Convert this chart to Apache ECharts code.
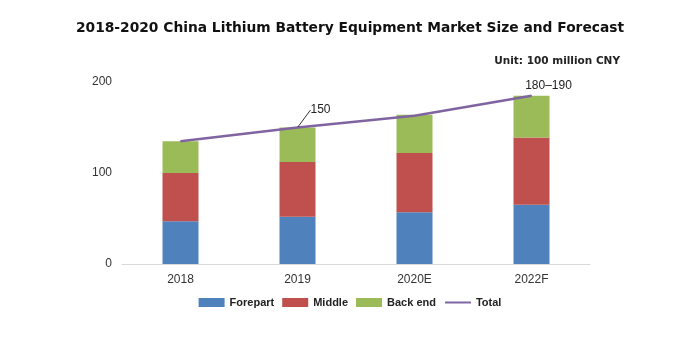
<!DOCTYPE html>
<html><head><meta charset="utf-8">
<script src="https://cdn.jsdelivr.net/npm/echarts@6/dist/echarts.min.js"></script>
<style>html,body{margin:0;padding:0;background:#fff}#c{width:700px;height:345px}</style>
</head><body><div id="c"></div>
<script>
const categories = ['2018', '2019', '2020E', '2022F'];
const forepart = [47, 52, 57, 65];
const middle = [53, 60, 65, 74];
const backEnd = [35, 38, 42, 46];
const total = [135, 150, 163, 185];
const totalLabels = ['', '150', '', '180\u2013190'];
const yTicks = [0, 100, 200];

const FONT = '"Liberation Sans", Arial, sans-serif';
const WIDE = '"DejaVu Sans", sans-serif';
const chart = echarts.init(document.getElementById('c'));
const labelOffsets = [null, [23, -7], null, [17, 1]];
chart.setOption({
  animation: false,
  textStyle: { fontFamily: FONT },
  title: [{
    text: '2018-2020 China Lithium Battery Equipment Market Size and Forecast',
    left: 'center', top: 16,
    textStyle: { fontSize: 13.8, fontWeight: 'bold', color: '#111', fontFamily: WIDE }
  }, {
    text: 'Unit: 100 million CNY',
    right: 75, top: 51,
    textStyle: { fontSize: 10.5, fontWeight: 'bold', color: '#222', fontFamily: WIDE }
  }],
  legend: {
    bottom: 32, left: 'center',
    itemWidth: 26, itemHeight: 9, itemGap: 8,
    textStyle: { fontSize: 11, fontWeight: 'bold', color: '#222', fontFamily: FONT },
    data: [
      { name: 'Forepart', icon: 'rect' },
      { name: 'Middle', icon: 'rect' },
      { name: 'Back end', icon: 'rect' },
      { name: 'Total', itemStyle: { opacity: 0 } }
    ]
  },
  grid: { left: 122, right: 110, top: 82, bottom: 81 },
  xAxis: {
    type: 'category', data: categories,
    axisLine: { lineStyle: { color: '#d9d9d9' } },
    axisTick: { show: false },
    axisLabel: { color: '#333', fontSize: 12, margin: 10 }
  },
  yAxis: {
    type: 'value', min: yTicks[0], max: yTicks[yTicks.length - 1], interval: 100,
    splitLine: { show: false },
    axisLine: { show: false }, axisTick: { show: false },
    axisLabel: { color: '#333', fontSize: 12, margin: 10 }
  },
  series: [
    { name: 'Forepart', type: 'bar', stack: 's', data: forepart, barWidth: 36, itemStyle: { color: '#4F81BD' } },
    { name: 'Middle', type: 'bar', stack: 's', data: middle, barWidth: 36, itemStyle: { color: '#C0504D' } },
    { name: 'Back end', type: 'bar', stack: 's', data: backEnd, barWidth: 36, itemStyle: { color: '#9BBB59' } },
    {
      name: 'Total', type: 'line', data: total.map((v, i) => ({
        value: v,
        label: { show: totalLabels[i] !== '', formatter: totalLabels[i], position: 'top', distance: 4, color: '#222', fontSize: 12 },
        labelLine: { show: i === 1, lineStyle: { color: '#333', width: 1 } }
      })),
      symbol: 'circle', symbolSize: 1, showSymbol: true, z: 5,
      lineStyle: { color: '#8064A2', width: 2.5 },
      itemStyle: { color: '#8064A2' },
      labelLayout: function (p) {
        const o = labelOffsets[p.dataIndex];
        return o ? { dx: o[0], dy: o[1] } : {};
      }
    }
  ]
});
</script></body></html>
